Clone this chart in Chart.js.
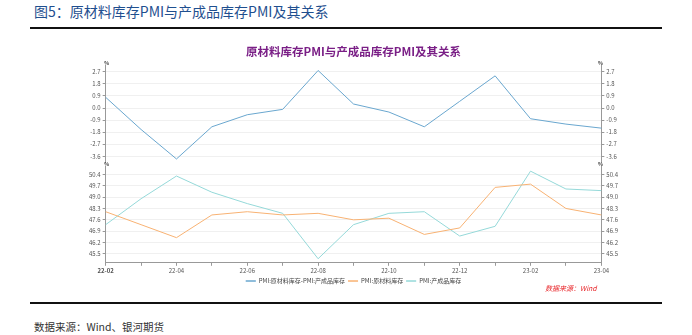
<!DOCTYPE html>
<html><head><meta charset="utf-8">
<script src="https://cdn.jsdelivr.net/npm/chart.js@4/dist/chart.umd.min.js"></script>
<style>
html,body{margin:0;padding:0;background:#fff;width:692px;height:335px;overflow:hidden;}
#wrap{position:absolute;left:0;top:0;width:692px;height:335px;}
.t{position:absolute;white-space:nowrap;font-family:"Noto Sans CJK SC","Noto Sans",sans-serif;}
#hdr{left:34px;top:1px;font-size:14px;color:#1f4f8f;line-height:20px;}
#ftr{left:34px;top:319px;font-size:10.5px;color:#333;line-height:16px;}
#src{left:545px;top:283px;font-size:7px;color:#e8262a;font-style:italic;line-height:10px;}
.ln{position:absolute;left:30px;width:632px;height:2px;background:#111;}
canvas{position:absolute;left:0;top:0;}
</style></head>
<body><div id="wrap">
<div class="t" id="hdr">图5：原材料库存PMI与产成品库存PMI及其关系</div>
<div class="ln" style="top:27px"></div>
<canvas id="c" width="692" height="300"></canvas>
<div class="t" id="src">数据来源：Wind</div>
<div class="ln" style="top:302px"></div>
<div class="t" id="ftr">数据来源：Wind、银河期货</div>
</div>
<script>
const months = ['22-02','22-03','22-04','22-05','22-06','22-07','22-08','22-09','22-10','22-11','22-12','23-01','23-02','23-03','23-04'];
const diffVals = [0.8,-1.6,-3.8,-1.4,-0.5,-0.1,2.8,0.3,-0.3,-1.4,0.5,2.4,-0.8,-1.2,-1.5];
const rawVals = [48.1,47.3,46.5,47.9,48.1,47.9,48.0,47.6,47.7,46.7,47.1,49.6,49.8,48.3,47.9];
const finVals = [47.3,48.9,50.3,49.3,48.6,48.0,45.2,47.3,48.0,48.1,46.6,47.2,50.6,49.5,49.4];
const topTicks = [-3.6,-2.7,-1.8,-0.9,0.0,0.9,1.8,2.7];
const botTicks = [45.5,46.2,46.9,47.6,48.3,49.0,49.7,50.4];
const seriesNames = ['PMI:原材料库存-PMI:产成品库存','PMI:原材料库存','PMI:产成品库存'];
const chartTitle = '原材料库存PMI与产成品库存PMI及其关系';

const FONT = '"Noto Sans CJK SC","Noto Sans",sans-serif';
const tickFont = {size:6, family:FONT};
function yAxis(pos, stack, weight, sw, min, max, ticks){
  return {
    type:'linear', position:pos, stack:stack, stackWeight:sw, weight:weight,
    min:min, max:max,
    afterBuildTicks: ax => { ax.ticks = ticks.map(v=>({value:v})); },
    ticks:{font:tickFont, color:'#555', padding:2, autoSkip:false, callback:v=>Number(v).toFixed(1)},
    grid:{color:'#f0f0f0', lineWidth:1, tickLength:3, tickColor:'#999', drawOnChartArea: pos==='left'},
    border:{color:'#999', width:1}
  };
}
function gapAxis(pos, stack, weight){
  return {type:'linear', position:pos, stack:stack, stackWeight:4, weight:weight, min:0, max:1,
    ticks:{display:false}, grid:{display:false}, border:{display:false}};
}
const pctPlugin = {
  id:'pct',
  afterDraw(chart){
    const ctx = chart.ctx;
    ctx.save();
    ctx.font = 'bold 5px ' + FONT;
    ctx.fillStyle = '#444';
    ctx.textBaseline = 'bottom';
    ctx.textAlign='center';
    ['yTop','yBot'].forEach(id=>{const s=chart.scales[id]; ctx.fillText('%', s.right+1, s.top);});
    ['yTopR','yBotR'].forEach(id=>{const s=chart.scales[id]; ctx.fillText('%', s.left-1, s.top);});
    ctx.restore();
  }
};
new Chart(document.getElementById('c'), {
  type:'line',
  data:{
    labels: months,
    datasets:[
      {label:seriesNames[0], data:diffVals, yAxisID:'yTop', borderColor:'#6aa7cf', backgroundColor:'#6aa7cf', borderWidth:1, pointRadius:0, tension:0},
      {label:seriesNames[1], data:rawVals, yAxisID:'yBot', borderColor:'#f8b273', backgroundColor:'#f8b273', borderWidth:1, pointRadius:0, tension:0},
      {label:seriesNames[2], data:finVals, yAxisID:'yBot', borderColor:'#95d9d9', backgroundColor:'#95d9d9', borderWidth:1, pointRadius:0, tension:0}
    ]
  },
  options:{
    responsive:false, animation:false, devicePixelRatio:1,
    layout:{padding:{left:87, right:72, top:45, bottom:6}},
    scales:{
      x:{type:'category', offset:false,
        ticks:{autoSkip:false, maxRotation:0, padding:1, color:'#555',
          font: c => ({size:6, family:FONT, weight: c.index===0 ? 'bold' : 'normal'}),
          callback:function(v,i){ return i%2===0 ? this.getLabelForValue(v) : ''; }},
        grid:{drawOnChartArea:false, tickLength:3, tickColor:'#999'},
        border:{color:'#999', width:1}
      },
      yTop: yAxis('left','L',3,97,-4.05,3.15,topTicks),
      yGap: gapAxis('left','L',2),
      yBot: yAxis('left','L',1,97,44.95,50.9,botTicks),
      yTopR: yAxis('right','R',1,97,-4.05,3.15,topTicks),
      yGapR: gapAxis('right','R',2),
      yBotR: yAxis('right','R',3,97,44.95,50.9,botTicks)
    },
    plugins:{
      title:{display:true, text:chartTitle, color:'#7a1f86', font:{size:11.5, weight:'bold', family:FONT}, padding:{top:0,bottom:7}},
      legend:{position:'bottom', labels:{usePointStyle:false, boxWidth:10, boxHeight:0, font:{size:6, family:FONT}, color:'#444', padding:3}},
      tooltip:{enabled:false}
    }
  },
  plugins:[pctPlugin]
});
</script>
</body></html>
